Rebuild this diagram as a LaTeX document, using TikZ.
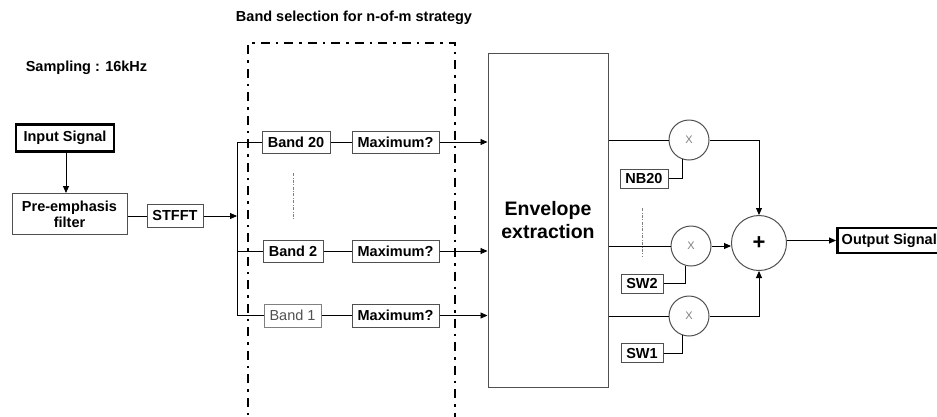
\documentclass[tikz,border=0pt]{standalone}
\usepackage{fontspec}
\setmainfont{Liberation Sans}
\usetikzlibrary{arrows.meta,calc}
\definecolor{bordergray}{HTML}{505050}
\tikzset{
  lbl/.style={font=\fontsize{14.5}{16}\selectfont\bfseries},
  blk/.style={draw=bordergray, line width=1pt, inner sep=0pt, align=center, font=\fontsize{14.5}{16}\selectfont\bfseries},
  heavy/.style={draw=black, line width=2.5pt, inner sep=0pt, align=center, font=\fontsize{14.5}{16}\selectfont\bfseries},
  mult/.style={circle, draw=bordergray, line width=1pt, minimum size=40pt, inner sep=0pt, text=gray, font=\fontsize{11}{12}\selectfont},
  conn/.style={draw=black, line width=0.9pt},
  arr/.style={conn, -{Triangle[length=7pt,width=6pt]}},
  selbox/.style={draw=black, line width=2.8pt, dash pattern=on 9pt off 6pt on 2.5pt off 6pt},
  guide/.style={draw=gray, line width=0.6pt, dash pattern=on 3pt off 1.5pt on 0.8pt off 1.5pt}
}
\begin{document}
\begin{tikzpicture}[x=1pt,y=-1pt]
\useasboundingbox (0,0) rectangle (937,416);
\fill[white] (0,0) rectangle (937,416);

% titles
\node[lbl] (title) at (354,18) {Band selection for n-of-m strategy};
\node[lbl] (samp) at (86.5,68) {Sampling : 16kHz};

% selection box (extends past bottom)
\draw[selbox] (248,430) -- (248,43) -- (455,43) -- (455,430);

% input chain
\node[heavy, minimum width=98pt, minimum height=27pt] (in) at (65,138) {Input Signal};
\node[blk, minimum width=115pt, minimum height=41pt] (pre) at (69.5,214) {Pre-emphasis\\filter};
\node[blk, minimum width=56pt, minimum height=23pt] (stft) at (175,216) {STFFT};
\draw[arr] (in.south -| 66,0) -- (pre.north -| 66,0);
\draw[conn] (pre.east |- stft.west) -- (stft.west);
\coordinate (bus) at (237,216);
\coordinate (bustop) at (237,142);
\coordinate (busbot) at (237,315.5);
\draw[arr] (stft.east) -- (bus);
\draw[conn] (bustop) -- (busbot);

% bands
\node[blk, minimum width=68pt, minimum height=22pt] (b20) at (296,142) {Band 20};
\node[blk, minimum width=60pt, minimum height=22pt] (b2) at (293,251) {Band 2};
\node[blk, draw=gray, minimum width=57pt, minimum height=23pt, font=\fontsize{14.5}{16}\selectfont, text=bordergray] (b1) at (292.5,315.5) {Band 1};
\node[blk, minimum width=87pt, minimum height=22pt] (m20) at (395.5,142) {Maximum?};
\node[blk, minimum width=87pt, minimum height=22pt] (m2) at (395.5,251) {Maximum?};
\node[blk, minimum width=87pt, minimum height=23pt] (m1) at (395.5,315.5) {Maximum?};
\draw[conn] (bustop) -- (b20.west);
\draw[conn] (bus |- b2.west) -- (b2.west);
\draw[conn] (busbot) -- (b1.west);
\draw[conn] (b20) -- (m20);
\draw[conn] (b2) -- (m2);
\draw[conn] (b1) -- (m1);
\coordinate (g1a) at (293,173);
\coordinate (g1b) at (293,220);
\draw[guide] (g1a) -- (g1b);

% envelope
\node[blk, minimum width=120pt, minimum height=334pt, font=\fontsize{19.5}{23}\selectfont\bfseries] (env) at (548,220) {Envelope\\extraction};
\draw[arr] (m20.east) -- (env.west |- m20.east);
\draw[arr] (m2.east) -- (env.west |- m2.east);
\draw[arr] (m1.east) -- (env.west |- m1.east);

% multipliers and sum
\node[mult] (x1) at (689,140) {X};
\node[mult] (x2) at (691,246) {X};
\node[mult] (x3) at (689,316) {X};
\node[circle, draw=bordergray, line width=1pt, minimum size=55pt, inner sep=0pt, font=\fontsize{22}{24}\selectfont\bfseries] (sum) at (759,243) {+};
\node[blk, minimum width=48pt, minimum height=19pt] (nb) at (644,178.5) {NB20};
\node[blk, minimum width=42pt, minimum height=19pt] (sw2) at (642,283.5) {SW2};
\node[blk, minimum width=42pt, minimum height=19pt] (sw1) at (642,353) {SW1};

\draw[conn] (env.east |- x1) -- (x1.west);
\draw[conn] (env.east |- x2) -- (x2.west);
\draw[conn] (env.east |- x3) -- (x3.west);
\draw[conn] (nb.east) -| (x1.250);
\draw[conn] (sw2.east) -| (x2.255);
\draw[conn] (sw1.east) -| (x3.250);
\draw[arr] (x1.east) -| (sum.north);
\draw[arr] (x2.east) -- (x2.east -| sum.west);
\draw[arr] (x3.east) -| (sum.south);
\coordinate (g2a) at (642,208);
\coordinate (g2b) at (642,257);
\draw[guide] (g2a) -- (g2b);

% output
\node[heavy, anchor=west, minimum width=106pt, minimum height=25pt] (out) at (836,240.5) {\hspace*{-2pt}Output Signal};
\draw[arr] (sum.east |- out.west) -- (out.west);
\end{tikzpicture}
\end{document}
